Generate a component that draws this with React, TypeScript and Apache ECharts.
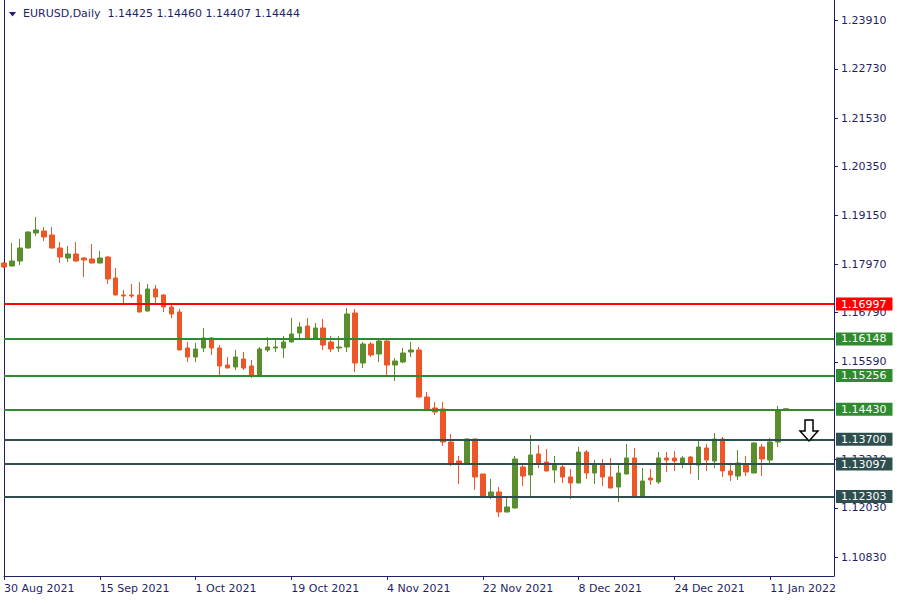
import React, { useEffect, useRef } from "react";
import * as echarts from "echarts";

const symbol = "EURUSD";
const period = "Daily";
const firstDate = "2021-08-30";
const emptyBarsRight = 6;

// one row per daily bar: [open, high, low, close]
const ohlc: number[][] = [
  [1.17998, 1.18022, 1.17876, 1.17901],
  [1.17925, 1.18486, 1.1791, 1.18047],
  [1.18047, 1.18583, 1.17949, 1.18364],
  [1.18364, 1.1877, 1.1835, 1.18754],
  [1.1873, 1.1912, 1.18656, 1.18803],
  [1.18778, 1.18876, 1.18534, 1.18632],
  [1.18681, 1.18876, 1.1835, 1.18364],
  [1.18364, 1.1851, 1.17998, 1.18144],
  [1.1812, 1.18413, 1.18022, 1.18218],
  [1.18218, 1.1851, 1.18022, 1.18047],
  [1.1812, 1.18144, 1.17657, 1.18071],
  [1.18096, 1.18461, 1.1799, 1.17998],
  [1.17998, 1.18291, 1.1799, 1.1812],
  [1.18144, 1.18169, 1.17486, 1.17608],
  [1.17632, 1.17876, 1.1721, 1.17218],
  [1.17218, 1.1734, 1.16974, 1.17194],
  [1.17218, 1.17486, 1.17145, 1.17194],
  [1.17218, 1.17535, 1.16795, 1.16803],
  [1.16828, 1.17486, 1.16815, 1.17364],
  [1.17364, 1.17462, 1.17023, 1.17169],
  [1.17218, 1.17242, 1.16803, 1.16925],
  [1.16925, 1.16974, 1.16657, 1.16755],
  [1.16803, 1.16877, 1.1587, 1.15877],
  [1.15926, 1.16072, 1.15584, 1.15706],
  [1.15706, 1.16048, 1.15584, 1.15901],
  [1.15926, 1.16413, 1.15828, 1.1617],
  [1.1617, 1.16194, 1.15755, 1.15926],
  [1.15926, 1.15999, 1.15268, 1.15487],
  [1.15511, 1.15706, 1.1543, 1.15438],
  [1.15463, 1.15877, 1.15389, 1.15706],
  [1.15658, 1.15828, 1.15389, 1.15438],
  [1.15487, 1.15633, 1.15194, 1.15268],
  [1.15268, 1.1595, 1.1526, 1.15901],
  [1.15877, 1.16194, 1.15828, 1.1595],
  [1.15926, 1.1617, 1.15828, 1.1595],
  [1.15926, 1.16218, 1.15682, 1.16072],
  [1.16072, 1.16657, 1.1606, 1.16267],
  [1.16291, 1.1656, 1.1617, 1.16438],
  [1.16462, 1.16657, 1.1616, 1.1617],
  [1.1617, 1.16535, 1.1616, 1.16413],
  [1.16413, 1.16633, 1.15877, 1.15999],
  [1.16072, 1.16218, 1.15828, 1.15901],
  [1.15926, 1.16218, 1.15828, 1.1595],
  [1.1595, 1.16901, 1.15828, 1.16755],
  [1.16779, 1.16877, 1.15341, 1.1556],
  [1.1556, 1.16072, 1.15438, 1.16023],
  [1.16023, 1.16072, 1.15706, 1.15755],
  [1.1578, 1.16121, 1.15584, 1.16096],
  [1.16096, 1.1617, 1.15268, 1.15511],
  [1.15511, 1.15682, 1.15121, 1.15609],
  [1.15584, 1.15926, 1.1556, 1.15804],
  [1.15828, 1.16072, 1.15706, 1.15877],
  [1.15877, 1.1595, 1.1472, 1.14731],
  [1.14731, 1.14853, 1.14414, 1.14439],
  [1.14463, 1.14609, 1.14292, 1.14365],
  [1.14439, 1.14609, 1.13537, 1.13634],
  [1.13634, 1.13829, 1.13049, 1.13098],
  [1.13171, 1.13293, 1.1261, 1.13098],
  [1.13122, 1.13715, 1.13098, 1.13707],
  [1.13707, 1.13715, 1.12464, 1.12781],
  [1.12854, 1.1286, 1.12269, 1.12293],
  [1.12293, 1.12732, 1.12244, 1.12415],
  [1.12415, 1.12537, 1.11806, 1.11927],
  [1.11927, 1.12269, 1.1192, 1.12049],
  [1.12025, 1.13293, 1.12015, 1.1322],
  [1.13025, 1.13098, 1.12561, 1.12805],
  [1.1283, 1.13805, 1.12318, 1.13317],
  [1.13342, 1.13561, 1.13, 1.13098],
  [1.13146, 1.13463, 1.1292, 1.12927],
  [1.12951, 1.13293, 1.12635, 1.13098],
  [1.13025, 1.13073, 1.12635, 1.12781],
  [1.12781, 1.12976, 1.12244, 1.12635],
  [1.12635, 1.13512, 1.12628, 1.1339],
  [1.1339, 1.13439, 1.12732, 1.12878],
  [1.12878, 1.13195, 1.1261, 1.13098],
  [1.13098, 1.1322, 1.12561, 1.12781],
  [1.12781, 1.13244, 1.12505, 1.12513],
  [1.12537, 1.13122, 1.12171, 1.12878],
  [1.12854, 1.13585, 1.12845, 1.13244],
  [1.13244, 1.13488, 1.1231, 1.12318],
  [1.12318, 1.13, 1.1231, 1.12683],
  [1.12756, 1.12976, 1.12586, 1.12708],
  [1.12659, 1.1339, 1.1261, 1.13244],
  [1.13244, 1.1339, 1.12903, 1.13195],
  [1.13244, 1.13415, 1.12927, 1.13171],
  [1.13098, 1.13293, 1.13, 1.13244],
  [1.13268, 1.13293, 1.12854, 1.13098],
  [1.13073, 1.13683, 1.12708, 1.13512],
  [1.13488, 1.13585, 1.12927, 1.13195],
  [1.13171, 1.13854, 1.13, 1.13707],
  [1.13707, 1.13756, 1.12781, 1.12927],
  [1.12927, 1.13073, 1.12683, 1.1283],
  [1.12805, 1.13439, 1.12708, 1.13122],
  [1.13098, 1.13293, 1.12805, 1.12903],
  [1.12878, 1.1362, 1.1287, 1.1361],
  [1.13512, 1.13585, 1.12805, 1.1322],
  [1.13195, 1.13732, 1.13122, 1.13634],
  [1.13634, 1.14512, 1.13512, 1.14425],
  [1.14425, 1.1446, 1.14407, 1.14444],
];

const levelValues = [1.16997, 1.16148, 1.15256, 1.1443, 1.137, 1.13097, 1.12303];
const levelKinds = ["red", "green", "green", "green", "dark", "dark", "dark"];
const priceTicks = [1.2391, 1.2273, 1.2153, 1.2035, 1.1915, 1.1797, 1.1679, 1.1559, 1.1321, 1.1203, 1.1083];
const yMin = 1.10367;
const yMax = 1.2441;
const labelEvery = 12;

const MONTHS = ["Jan", "Feb", "Mar", "Apr", "May", "Jun", "Jul", "Aug", "Sep", "Oct", "Nov", "Dec"];
const kindColor: Record<string, string> = { red: "#ff0000", green: "#2e8b2e", dark: "#2f4f4f" };
const UP = "#5a8d2b";
const DOWN = "#ee5628";
const INK = "#1f1f66";
const FONT = "DejaVu Sans";

function tradingDays(start: string, n: number): string[] {
  const out: string[] = [];
  const d = new Date(start + "T00:00:00Z");
  while (out.length < n) {
    const wd = d.getUTCDay();
    if (wd !== 0 && wd !== 6) {
      out.push(`${d.getUTCDate()} ${MONTHS[d.getUTCMonth()]} ${d.getUTCFullYear()}`);
    }
    d.setUTCDate(d.getUTCDate() + 1);
  }
  return out;
}

export default function App() {
  const ref = useRef<HTMLDivElement>(null);
  useEffect(() => {
    if (!ref.current) return;
    const chart = echarts.init(ref.current, null, { renderer: "svg" });
    const total = ohlc.length + emptyBarsRight;
    const dates = tradingDays(firstDate, total);
    const lastIdx = ohlc.length - 1;
    const showAt = (i: number) => i % labelEvery === 0 && i <= lastIdx;
    const last = ohlc[lastIdx];
    const candleData = ohlc.map(([o, h, l, c]) => [o, c, l, h]);

    chart.setOption({
      animation: false,
      backgroundColor: "#ffffff",
      textStyle: { fontFamily: FONT },
      grid: { left: 4, right: 64, top: 0, bottom: 33, outerBoundsMode: "none" },
      xAxis: {
        type: "category",
        data: dates,
        boundaryGap: false,
        axisLine: { show: true, lineStyle: { color: INK, width: 1 } },
        axisTick: { show: true, length: 4, interval: (i: number) => showAt(i), lineStyle: { color: INK } },
        axisLabel: {
          interval: (i: number) => showAt(i),
          align: "left",
          margin: 7,
          color: INK,
          fontSize: 11,
          fontFamily: FONT,
        },
        splitLine: { show: false },
      },
      yAxis: [
        {
          type: "value",
          position: "right",
          min: yMin,
          max: yMax,
          scale: true,
          axisLine: { show: true, lineStyle: { color: INK, width: 1 } },
          axisTick: { show: true, length: 4, customValues: priceTicks, lineStyle: { color: INK } },
          axisLabel: {
            customValues: priceTicks,
            formatter: (v: number) => v.toFixed(5),
            color: INK,
            fontSize: 11,
            margin: 7,
            fontFamily: FONT,
          },
          splitLine: { show: false },
        },
        {
          type: "value",
          position: "left",
          min: yMin,
          max: yMax,
          scale: true,
          axisLine: { show: true, lineStyle: { color: INK, width: 1 } },
          axisTick: { show: false },
          axisLabel: { show: false },
          splitLine: { show: false },
        },
      ],
      series: [
        {
          type: "candlestick",
          name: `${symbol},${period}`,
          data: candleData,
          barWidth: 5,
          clip: true,
          itemStyle: {
            color: UP,
            color0: DOWN,
            borderColor: UP,
            borderColor0: DOWN,
            borderWidth: 1,
          },
          markLine: {
            silent: true,
            symbol: "none",
            precision: 5,
            animation: false,
            data: levelValues.map((v, i) => ({
              yAxis: v,
              lineStyle: { color: kindColor[levelKinds[i]], width: 2, type: "solid" },
              label: {
                show: true,
                position: "end",
                distance: 2,
                formatter: () => v.toFixed(5),
                color: "#ffffff",
                fontSize: 11,
                lineHeight: 13,
                fontFamily: FONT,
                backgroundColor: kindColor[levelKinds[i]],
                padding: [0, 6, 0, 5],
              },
            })),
          },
        },
      ],
      graphic: [
        {
          type: "polygon",
          shape: { points: [[9, 12], [16, 12], [12.5, 16.5]] },
          style: { fill: INK },
        },
        {
          type: "text",
          left: 23,
          top: 8,
          style: {
            text: `${symbol},${period}  ${last.map((x) => x.toFixed(5)).join(" ")}`,
            fill: INK,
            fontSize: 11,
            fontFamily: FONT,
          },
        },
        {
          type: "polygon",
          shape: {
            points: [[805, 420], [813, 420], [813, 431], [818, 431], [809, 441], [800, 431], [805, 431]],
          },
          style: { fill: "#ffffff", stroke: "#000000", lineWidth: 1.5 },
          z: 100,
        },
      ],
    });
    return () => chart.dispose();
  }, []);
  return (
    <div
      ref={ref}
      style={{ position: "fixed", left: 0, top: 0, width: 898, height: 609, background: "#ffffff" }}
    />
  );
}
